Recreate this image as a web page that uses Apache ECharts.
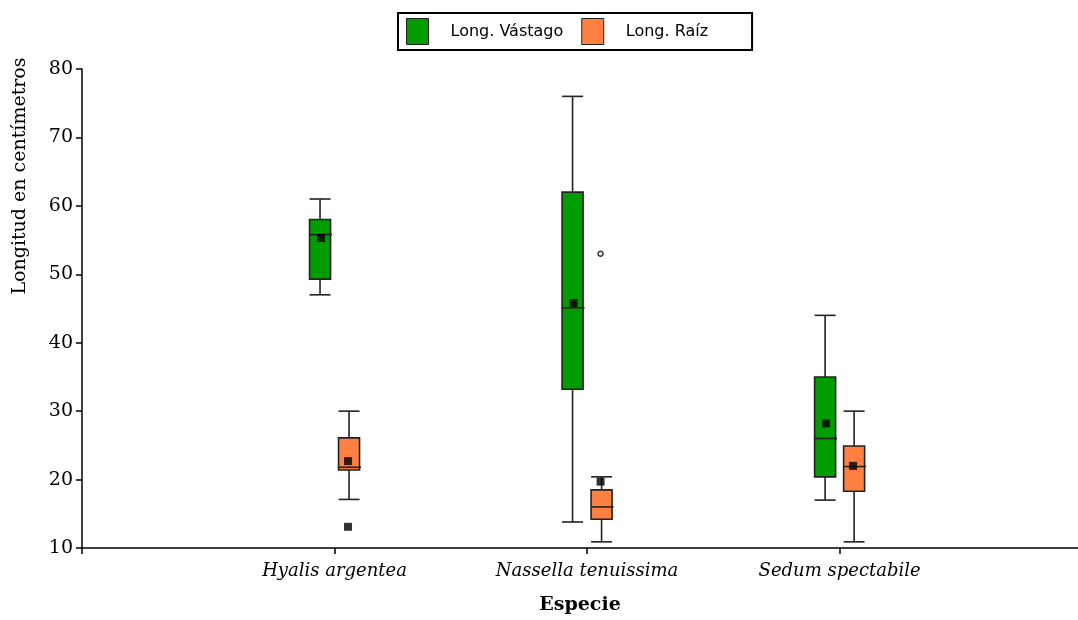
<!DOCTYPE html>
<html><head><meta charset="utf-8">
<script src="https://cdn.jsdelivr.net/npm/echarts@6/dist/echarts.min.js"></script>
<style>html,body{margin:0;padding:0;background:#fff}#c{width:1078px;height:620px}</style>
</head><body><div id="c"></div>
<script>
const categories = ['Hyalis argentea', 'Nassella tenuissima', 'Sedum spectabile'];
const yTicks = [10, 20, 30, 40, 50, 60, 70, 80];
// Long. Vástago
const vastagoMin = [47, 13.8, 17];
const vastagoQ1 = [49.3, 33.2, 20.4];
const vastagoMedian = [55.8, 45.1, 26];
const vastagoQ3 = [58, 62, 35];
const vastagoMax = [61, 76, 44];
const vastagoMean = [55.3, 45.8, 28.2];
// Long. Raíz
const raizMin = [17.1, 10.9, 10.9];
const raizQ1 = [21.4, 14.2, 18.3];
const raizMedian = [21.8, 16, 21.9];
const raizQ3 = [26.1, 18.5, 24.9];
const raizMax = [30, 20.4, 30];
const raizMean = [22.7, 19.7, 22.0];
// outliers of Long. Raíz
const raizOutlierSquare = [[1, 13.1]];
const raizOutlierCircle = [[2, 53]];

const GREEN = '#009C00', ORANGE = '#FF8040', LINE = '#222';
const OFF = 14.5, HALF = 10.5;

function boxData(mn, q1, md, q3, mx) {
  return categories.map((c, i) => [i + 1, mn[i], q1[i], md[i], q3[i], mx[i]]);
}
function makeRender(offset, color) {
  return function (params, api) {
    const x = api.value(0);
    const cx = api.coord([x, 10])[0] + offset;
    const y = k => api.coord([x, api.value(k)])[1];
    const yMin = y(1), yQ1 = y(2), yMed = y(3), yQ3 = y(4), yMax = y(5);
    const ls = { stroke: LINE, lineWidth: 1.6 };
    return {
      type: 'group',
      children: [
        { type: 'line', shape: { x1: cx, y1: yMax, x2: cx, y2: yQ3 }, style: ls },
        { type: 'line', shape: { x1: cx, y1: yQ1, x2: cx, y2: yMin }, style: ls },
        { type: 'line', shape: { x1: cx - HALF, y1: yMax, x2: cx + HALF, y2: yMax }, style: ls },
        { type: 'line', shape: { x1: cx - HALF, y1: yMin, x2: cx + HALF, y2: yMin }, style: ls },
        { type: 'rect', shape: { x: cx - HALF, y: yQ3, width: 2 * HALF, height: yQ1 - yQ3 },
          style: { fill: color, stroke: LINE, lineWidth: 1.6 } },
        { type: 'line', shape: { x1: cx - HALF, y1: yMed, x2: cx + HALF + 1.5, y2: yMed }, style: ls }
      ]
    };
  };
}

const serif = '"DejaVu Serif", serif';
const chart = echarts.init(document.getElementById('c'));
chart.setOption({
  animation: false,
  backgroundColor: '#fff',
  grid: { left: 82, right: 0, top: 69, bottom: 65, containLabel: false },
  legend: {
    data: [
      { name: 'Long. Vástago', itemStyle: { color: GREEN, borderColor: '#222', borderWidth: 1 } },
      { name: 'Long. Raíz', itemStyle: { color: ORANGE, borderColor: '#222', borderWidth: 1 } }
    ],
    left: 398, top: 13,
    icon: 'rect',
    itemWidth: 22, itemHeight: 26,
    itemGap: 18,
    padding: [5, 44, 5, 8],
    borderColor: '#000', borderWidth: 2,
    textStyle: { fontFamily: '"DejaVu Sans", sans-serif', fontSize: 16, color: '#000', padding: [0, 0, 0, 17] }
  },
  xAxis: {
    type: 'value', min: 0, max: 3.944,
    splitLine: { show: false },
    axisLine: { show: true, onZero: false, lineStyle: { color: '#000', width: 1.5 } },
    axisTick: { show: true, length: 6, lineStyle: { color: '#000', width: 1.5 }, customValues: [0, 1, 2, 3] },
    axisLabel: {
      customValues: [1, 2, 3],
      formatter: v => categories[Math.round(v) - 1] || '',
      fontFamily: serif, fontStyle: 'italic', fontSize: 18, color: '#000', margin: 14
    },
    name: 'Especie', nameLocation: 'middle', nameGap: 48,
    nameTextStyle: { fontFamily: serif, fontWeight: 'bold', fontSize: 19, color: '#000' }
  },
  yAxis: {
    type: 'value', min: 10, max: 80, interval: 10,
    splitLine: { show: false },
    axisLine: { show: true, lineStyle: { color: '#000', width: 1.5 } },
    axisTick: { show: true, length: 6, lineStyle: { color: '#000', width: 1.5 } },
    axisLabel: { fontFamily: serif, fontSize: 19, color: '#000', margin: 9,
      formatter: v => yTicks.includes(v) ? String(v) : '' }
  },
  graphic: [{
    type: 'text', x: 20, y: 176, rotation: Math.PI / 2,
    style: { text: 'Longitud en centímetros', font: '19px ' + serif, fill: '#000',
      textAlign: 'center', textVerticalAlign: 'middle' }
  }],
  series: [
    { name: 'Long. Vástago', type: 'custom', renderItem: makeRender(-OFF, GREEN),
      itemStyle: { color: GREEN }, encode: { x: 0, y: [1, 2, 3, 4, 5] },
      data: boxData(vastagoMin, vastagoQ1, vastagoMedian, vastagoQ3, vastagoMax), z: 2 },
    { name: 'Long. Raíz', type: 'custom', renderItem: makeRender(OFF, ORANGE),
      itemStyle: { color: ORANGE }, encode: { x: 0, y: [1, 2, 3, 4, 5] },
      data: boxData(raizMin, raizQ1, raizMedian, raizQ3, raizMax), z: 2 },
    { name: 'meanV', type: 'scatter', symbol: 'rect', symbolSize: 8, symbolOffset: [-OFF + 1, 0],
      itemStyle: { color: '#000' }, z: 5,
      data: categories.map((c, i) => [i + 1, vastagoMean[i]]) },
    { name: 'meanR', type: 'scatter', symbol: 'rect', symbolSize: 8, symbolOffset: [OFF - 1, 0],
      itemStyle: { color: '#000' }, z: 5,
      data: categories.map((c, i) => [i + 1, raizMean[i]]).concat(raizOutlierSquare) },
    { name: 'outR', type: 'scatter', symbol: 'circle', symbolSize: 5, symbolOffset: [OFF - 1, 0],
      itemStyle: { color: '#fff', borderColor: '#000', borderWidth: 1.5 }, z: 5,
      data: raizOutlierCircle }
  ]
});
</script></body></html>
